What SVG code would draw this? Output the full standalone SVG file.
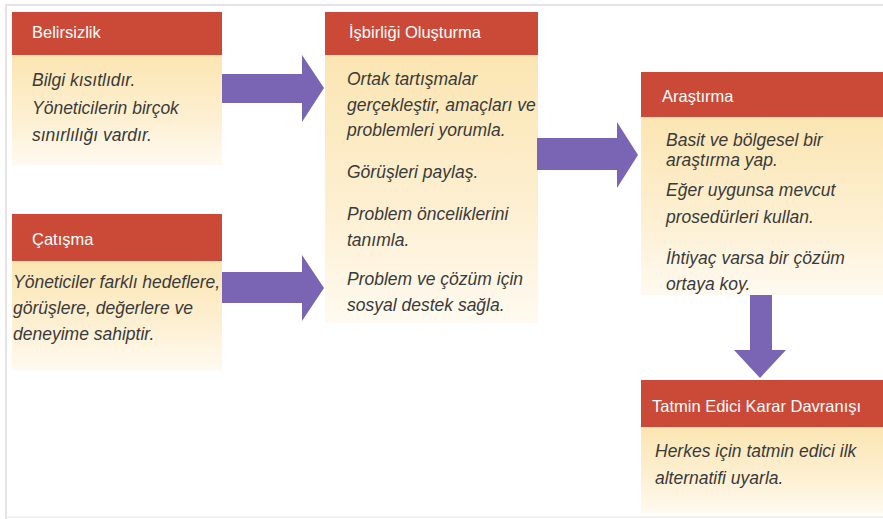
<svg xmlns="http://www.w3.org/2000/svg" width="883" height="519" viewBox="0 0 883 519">
<defs>
<linearGradient id="bodyGrad" x1="0" y1="0" x2="0" y2="1">
<stop offset="0" stop-color="#fbe5b2"/>
<stop offset="0.6" stop-color="#fdf0d3"/>
<stop offset="1" stop-color="#fffaf0"/>
</linearGradient>
<style>
.head{fill:#cb4a37}
.body{fill:url(#bodyGrad)}
.ht{font-family:"Liberation Sans",Arial,sans-serif;font-size:16.5px;fill:#ffffff}
.bt{font-family:"Liberation Sans",Arial,sans-serif;font-size:17.5px;font-style:italic;fill:#3a3a3a}
.arrow{fill:#7a65b5}
.frame{fill:none;stroke:#dcdcdc;stroke-width:1.5}
</style>
</defs>
<rect width="883" height="519" fill="#ffffff"/>
<path class="frame" d="M6,519 V5 H883"/>
<line x1="6" y1="517" x2="883" y2="517" stroke="#ececec" stroke-width="1.5"/>

<g id="belirsizlik">
<rect class="body" x="12" y="55" width="210" height="110"/>
<rect class="head" x="12" y="12" width="210" height="43"/>
<text class="ht" x="32" y="38">Belirsizlik</text>
<text class="bt" x="32" y="86">Bilgi kısıtlıdır.</text>
<text class="bt" x="32" y="114">Yöneticilerin birçok</text>
<text class="bt" x="32" y="141">sınırlılığı vardır.</text>
</g>

<g id="catisma">
<rect class="body" x="12" y="261" width="210" height="109"/>
<rect class="head" x="12" y="214" width="210" height="47"/>
<text class="ht" x="32" y="245">Çatışma</text>
<text class="bt" x="13" y="288">Yöneticiler farklı hedeflere,</text>
<text class="bt" x="13" y="314">görüşlere, değerlere ve</text>
<text class="bt" x="13" y="340">deneyime sahiptir.</text>
</g>

<g id="isbirligi">
<rect class="body" x="325" y="55" width="213" height="268"/>
<rect class="head" x="325" y="12" width="213" height="43"/>
<text class="ht" x="349" y="38">İşbirliği Oluşturma</text>
<text class="bt" x="347" y="85">Ortak tartışmalar</text>
<text class="bt" x="347" y="111">gerçekleştir, amaçları ve</text>
<text class="bt" x="347" y="136">problemleri yorumla.</text>
<text class="bt" x="347" y="178">Görüşleri paylaş.</text>
<text class="bt" x="347" y="220">Problem önceliklerini</text>
<text class="bt" x="347" y="246">tanımla.</text>
<text class="bt" x="347" y="285">Problem ve çözüm için</text>
<text class="bt" x="347" y="311">sosyal destek sağla.</text>
</g>

<g id="arastirma">
<rect class="body" x="641" y="117" width="242" height="178"/>
<rect class="head" x="641" y="72" width="242" height="45"/>
<text class="ht" x="662" y="102">Araştırma</text>
<text class="bt" x="666" y="146">Basit ve bölgesel bir</text>
<text class="bt" x="666" y="166">araştırma yap.</text>
<text class="bt" x="666" y="196">Eğer uygunsa mevcut</text>
<text class="bt" x="666" y="223">prosedürleri kullan.</text>
<text class="bt" x="666" y="264">İhtiyaç varsa bir çözüm</text>
<text class="bt" x="666" y="290">ortaya koy.</text>
</g>

<g id="tatmin">
<rect class="body" x="641" y="427" width="242" height="86"/>
<rect class="head" x="641" y="380" width="242" height="47"/>
<text class="ht" x="652" y="412">Tatmin Edici Karar Davranışı</text>
<text class="bt" x="655" y="457">Herkes için tatmin edici ilk</text>
<text class="bt" x="655" y="484">alternatifi uyarla.</text>
</g>

<g id="connectors">
<polygon class="arrow" points="222,74 302,74 302,55 324,88 302,122 302,103 222,103"/>
<polygon class="arrow" points="222,272 302,272 302,255 324,288 302,321 302,303 222,303"/>
<polygon class="arrow" points="537,138 617,138 617,122 638,155 617,188 617,170 537,170"/>
<polygon class="arrow" points="750,295 772,295 772,350 786,350 760,378 734,350 750,350"/>
</g>
</svg>
